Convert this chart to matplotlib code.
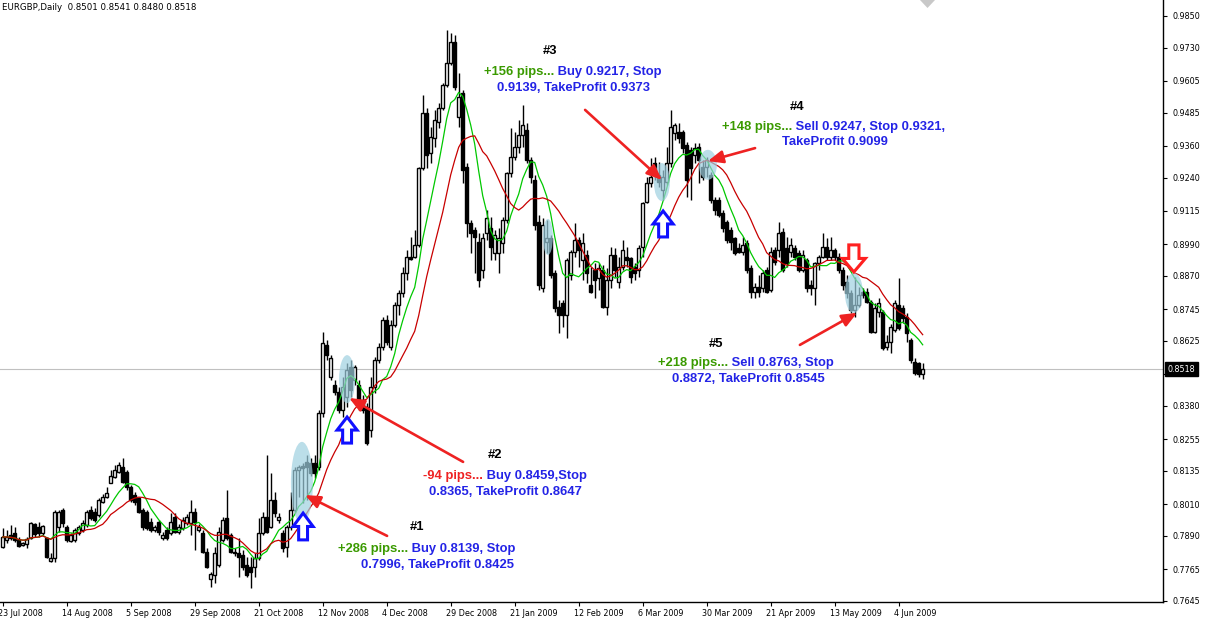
import numpy as np
import pandas as pd
import matplotlib
matplotlib.use("Agg")
import matplotlib.pyplot as plt
import matplotlib.transforms as mtransforms
from matplotlib.patches import Ellipse, Polygon

# EURGBP daily bars, 23 Jul 2008 .. 12 Jun 2009
opens = [
    0.7848, 0.7875, 0.7893, 0.7901, 0.7875, 0.7856, 0.7859, 0.7882, 0.7935, 0.7924,
    0.7901, 0.7882, 0.7795, 0.7807, 0.7924, 0.7988, 0.7924, 0.7871, 0.7875, 0.7901,
    0.7912, 0.7931, 0.7988, 0.7980, 0.7969, 0.8018, 0.8037, 0.8089, 0.8112, 0.8131,
    0.8150, 0.8131, 0.8074, 0.8044, 0.8033, 0.7988, 0.7980, 0.7942, 0.7912, 0.7942,
    0.7882, 0.7912, 0.7901, 0.7961, 0.7905, 0.7920, 0.7939, 0.7939, 0.7980, 0.7912,
    0.7901, 0.7829, 0.7727, 0.7743, 0.7780, 0.7875, 0.7957, 0.7893, 0.7829, 0.7826,
    0.7818, 0.7780, 0.7773, 0.7773, 0.7807, 0.7901, 0.7961, 0.7924, 0.8025, 0.7950,
    0.7901, 0.7848, 0.7924, 0.7988, 0.8138, 0.8154, 0.8169, 0.8165, 0.8165, 0.8150,
    0.8353, 0.8610, 0.8489, 0.8459, 0.8433, 0.8365, 0.8414, 0.8527, 0.8478, 0.8459,
    0.8402, 0.8376, 0.8289, 0.8451, 0.8553, 0.8602, 0.8704, 0.8602, 0.8685, 0.8761,
    0.8806, 0.8881, 0.8941, 0.8941, 0.8987, 0.9277, 0.9484, 0.9334, 0.9390, 0.9450,
    0.9503, 0.9590, 0.9673, 0.9752, 0.9469, 0.9560, 0.9281, 0.9070, 0.9043, 0.8998,
    0.8892, 0.9032, 0.9051, 0.8957, 0.8957, 0.8994, 0.9081, 0.9258, 0.9318, 0.9356,
    0.9401, 0.9420, 0.9307, 0.9232, 0.9073, 0.8825, 0.8998, 0.9013, 0.8881, 0.8753,
    0.8768, 0.8723, 0.8874, 0.8960, 0.9006, 0.8930, 0.8949, 0.8836, 0.8892, 0.8862,
    0.8892, 0.8753, 0.8855, 0.8949, 0.8847, 0.8904, 0.8941, 0.8938, 0.8904, 0.8892,
    0.8979, 0.9149, 0.9220, 0.9296, 0.9251, 0.9194, 0.9224, 0.9296, 0.9409, 0.9413,
    0.9413, 0.9364, 0.9345, 0.9326, 0.9356, 0.9281, 0.9281, 0.9251, 0.9156, 0.9156,
    0.9107, 0.9073, 0.9043, 0.9013, 0.8975, 0.8960, 0.8994, 0.8900, 0.8810, 0.8828,
    0.8825, 0.8892, 0.8817, 0.8968, 0.8968, 0.9036, 0.8975, 0.8960, 0.8975, 0.8957,
    0.8892, 0.8930, 0.8836, 0.8825, 0.8919, 0.8941, 0.8979, 0.8941, 0.8968, 0.8941,
    0.8892, 0.8847, 0.8806, 0.8742, 0.8761, 0.8810, 0.8810, 0.8772, 0.8659, 0.8734,
    0.8734, 0.8602, 0.8621, 0.8666, 0.8761, 0.8749, 0.8715, 0.8629, 0.8546, 0.8542,
    0.8501,
]
highs = [
    0.7920, 0.7912, 0.7931, 0.7924, 0.7886, 0.7867, 0.7886, 0.7942, 0.7939, 0.7942,
    0.7931, 0.7886, 0.7825, 0.7988, 0.7988, 0.7995, 0.7931, 0.7901, 0.7920, 0.7931,
    0.7950, 0.7988, 0.8003, 0.7995, 0.8033, 0.8048, 0.8074, 0.8138, 0.8157, 0.8169,
    0.8184, 0.8138, 0.8082, 0.8056, 0.8037, 0.7995, 0.7988, 0.7957, 0.7931, 0.7950,
    0.7905, 0.7924, 0.7976, 0.7976, 0.7935, 0.7961, 0.7973, 0.8025, 0.7995, 0.7935,
    0.7912, 0.7844, 0.7754, 0.7848, 0.7924, 0.7961, 0.8063, 0.7901, 0.7844, 0.7882,
    0.7837, 0.7810, 0.7810, 0.7826, 0.7957, 0.7980, 0.8196, 0.8127, 0.8056, 0.7976,
    0.7912, 0.7931, 0.8056, 0.8150, 0.8157, 0.8165, 0.8196, 0.8184, 0.8196, 0.8365,
    0.8659, 0.8629, 0.8572, 0.8478, 0.8451, 0.8489, 0.8542, 0.8553, 0.8534, 0.8478,
    0.8421, 0.8391, 0.8489, 0.8564, 0.8617, 0.8715, 0.8723, 0.8704, 0.8772, 0.8817,
    0.8904, 0.8968, 0.9017, 0.9043, 0.9281, 0.9552, 0.9503, 0.9432, 0.9496, 0.9522,
    0.9597, 0.9797, 0.9786, 0.9778, 0.9635, 0.9571, 0.9296, 0.9081, 0.9055, 0.9032,
    0.9032, 0.9119, 0.9092, 0.9043, 0.9051, 0.9092, 0.9262, 0.9428, 0.9413, 0.9458,
    0.9514, 0.9447, 0.9318, 0.9251, 0.9100, 0.9088, 0.9081, 0.9024, 0.8892, 0.8779,
    0.8779, 0.8938, 0.8968, 0.9070, 0.9017, 0.9032, 0.8968, 0.8904, 0.8919, 0.8919,
    0.8911, 0.8900, 0.8979, 0.8975, 0.8941, 0.9006, 0.8979, 0.8941, 0.8919, 0.8987,
    0.9149, 0.9243, 0.9315, 0.9318, 0.9300, 0.9269, 0.9356, 0.9496, 0.9447, 0.9447,
    0.9420, 0.9375, 0.9356, 0.9371, 0.9371, 0.9307, 0.9318, 0.9262, 0.9168, 0.9168,
    0.9119, 0.9081, 0.9055, 0.9017, 0.8994, 0.9017, 0.9006, 0.8911, 0.8843, 0.8874,
    0.8892, 0.8904, 0.8979, 0.8979, 0.9073, 0.9051, 0.9017, 0.9013, 0.8987, 0.8968,
    0.8968, 0.8938, 0.8855, 0.8923, 0.8949, 0.9032, 0.9013, 0.9017, 0.8975, 0.8957,
    0.8904, 0.8874, 0.8817, 0.8866, 0.8828, 0.8825, 0.8825, 0.8779, 0.8768, 0.8787,
    0.8742, 0.8647, 0.8689, 0.8779, 0.8862, 0.8761, 0.8730, 0.8636, 0.8561, 0.8546,
    0.8541,
]
lows = [
    0.7844, 0.7863, 0.7875, 0.7867, 0.7848, 0.7852, 0.7844, 0.7878, 0.7886, 0.7886,
    0.7893, 0.7807, 0.7792, 0.7792, 0.7905, 0.7924, 0.7867, 0.7867, 0.7867, 0.7893,
    0.7905, 0.7924, 0.7950, 0.7942, 0.7961, 0.8014, 0.8033, 0.8089, 0.8108, 0.8127,
    0.8089, 0.8063, 0.8018, 0.8006, 0.7976, 0.7912, 0.7912, 0.7905, 0.7905, 0.7893,
    0.7875, 0.7875, 0.7893, 0.7901, 0.7897, 0.7912, 0.7931, 0.7893, 0.7837, 0.7905,
    0.7826, 0.7769, 0.7697, 0.7712, 0.7773, 0.7867, 0.7875, 0.7826, 0.7814, 0.7735,
    0.7761, 0.7735, 0.7694, 0.7735, 0.7799, 0.7893, 0.7901, 0.7920, 0.7961, 0.7939,
    0.7829, 0.7810, 0.7912, 0.7976, 0.8037, 0.8014, 0.8025, 0.8116, 0.8108, 0.8138,
    0.8338, 0.8553, 0.8478, 0.8421, 0.8353, 0.8338, 0.8376, 0.8414, 0.8459, 0.8365,
    0.8353, 0.8233, 0.8263, 0.8429, 0.8542, 0.8591, 0.8610, 0.8591, 0.8678, 0.8723,
    0.8791, 0.8855, 0.8930, 0.8938, 0.8979, 0.9269, 0.9277, 0.9296, 0.9356, 0.9428,
    0.9496, 0.9582, 0.9665, 0.9571, 0.9432, 0.9220, 0.9017, 0.8957, 0.8881, 0.8828,
    0.8862, 0.9006, 0.8930, 0.8930, 0.8881, 0.8957, 0.9070, 0.9243, 0.9307, 0.9334,
    0.9356, 0.9296, 0.9220, 0.9043, 0.8817, 0.8810, 0.8957, 0.8862, 0.8734, 0.8655,
    0.8678, 0.8636, 0.8855, 0.8941, 0.8904, 0.8855, 0.8843, 0.8806, 0.8787, 0.8817,
    0.8749, 0.8723, 0.8825, 0.8866, 0.8825, 0.8892, 0.8904, 0.8843, 0.8855, 0.8866,
    0.8941, 0.9145, 0.9205, 0.9232, 0.9205, 0.9156, 0.9213, 0.9281, 0.9383, 0.9371,
    0.9334, 0.9168, 0.9156, 0.9296, 0.9220, 0.9232, 0.9243, 0.9145, 0.9100, 0.9092,
    0.9036, 0.8994, 0.8968, 0.8949, 0.8957, 0.8949, 0.8881, 0.8787, 0.8787, 0.8791,
    0.8810, 0.8806, 0.8810, 0.8911, 0.8941, 0.8885, 0.8904, 0.8941, 0.8930, 0.8885,
    0.8885, 0.8810, 0.8798, 0.8761, 0.8892, 0.8938, 0.8930, 0.8930, 0.8930, 0.8881,
    0.8817, 0.8787, 0.8730, 0.8715, 0.8753, 0.8787, 0.8768, 0.8655, 0.8655, 0.8715,
    0.8591, 0.8591, 0.8580, 0.8659, 0.8666, 0.8693, 0.8621, 0.8542, 0.8497, 0.8489,
    0.8480,
]
closes = [
    0.7886, 0.7886, 0.7882, 0.7875, 0.7852, 0.7863, 0.7878, 0.7939, 0.7897, 0.7901,
    0.7927, 0.7810, 0.7807, 0.7980, 0.7980, 0.7939, 0.7875, 0.7893, 0.7912, 0.7924,
    0.7939, 0.7980, 0.7957, 0.7950, 0.8025, 0.8037, 0.8052, 0.8116, 0.8138, 0.8157,
    0.8093, 0.8074, 0.8025, 0.8018, 0.7980, 0.7924, 0.7920, 0.7912, 0.7924, 0.7905,
    0.7893, 0.7882, 0.7942, 0.7905, 0.7924, 0.7950, 0.7961, 0.7980, 0.7942, 0.7924,
    0.7829, 0.7773, 0.7746, 0.7826, 0.7905, 0.7950, 0.7882, 0.7829, 0.7826, 0.7810,
    0.7773, 0.7743, 0.7754, 0.7807, 0.7901, 0.7961, 0.7905, 0.8025, 0.7976, 0.7961,
    0.7844, 0.7924, 0.7988, 0.8138, 0.8150, 0.8146, 0.8150, 0.8127, 0.8127, 0.8353,
    0.8617, 0.8572, 0.8561, 0.8433, 0.8365, 0.8451, 0.8515, 0.8440, 0.8527, 0.8391,
    0.8365, 0.8240, 0.8451, 0.8553, 0.8602, 0.8704, 0.8621, 0.8685, 0.8761, 0.8806,
    0.8881, 0.8941, 0.8934, 0.8987, 0.9277, 0.9484, 0.9326, 0.9394, 0.9458, 0.9503,
    0.9590, 0.9673, 0.9752, 0.9582, 0.9545, 0.9269, 0.9070, 0.9032, 0.9017, 0.8855,
    0.9013, 0.9088, 0.8979, 0.9024, 0.9013, 0.9081, 0.9258, 0.9318, 0.9356, 0.9401,
    0.9439, 0.9307, 0.9243, 0.9062, 0.8836, 0.9062, 0.9013, 0.8874, 0.8749, 0.8723,
    0.8723, 0.8930, 0.8960, 0.9006, 0.8968, 0.8994, 0.8881, 0.8810, 0.8855, 0.8900,
    0.8753, 0.8855, 0.8949, 0.8892, 0.8904, 0.8968, 0.8930, 0.8866, 0.8881, 0.8975,
    0.9145, 0.9220, 0.9243, 0.9251, 0.9224, 0.9243, 0.9296, 0.9432, 0.9439, 0.9390,
    0.9352, 0.9232, 0.9277, 0.9352, 0.9307, 0.9243, 0.9307, 0.9156, 0.9119, 0.9100,
    0.9051, 0.9006, 0.8998, 0.8957, 0.8960, 0.8987, 0.8892, 0.8810, 0.8828, 0.8810,
    0.8881, 0.8810, 0.8960, 0.8923, 0.9032, 0.8892, 0.8919, 0.8987, 0.8941, 0.8892,
    0.8949, 0.8825, 0.8825, 0.8919, 0.8941, 0.8979, 0.8941, 0.8968, 0.8941, 0.8892,
    0.8836, 0.8806, 0.8742, 0.8761, 0.8798, 0.8798, 0.8772, 0.8659, 0.8749, 0.8768,
    0.8598, 0.8621, 0.8678, 0.8768, 0.8674, 0.8712, 0.8655, 0.8553, 0.8504, 0.8500,
    0.8518,
]

date_labels = ["23 Jul 2008", "14 Aug 2008", "5 Sep 2008", "29 Sep 2008", "21 Oct 2008",
               "12 Nov 2008", "4 Dec 2008", "29 Dec 2008", "21 Jan 2009", "12 Feb 2009",
               "6 Mar 2009", "30 Mar 2009", "21 Apr 2009", "13 May 2009", "4 Jun 2009"]
price_ticks = [0.9850, 0.9730, 0.9605, 0.9485, 0.9360, 0.9240, 0.9115, 0.8990, 0.8870,
               0.8745, 0.8625, 0.8500, 0.8380, 0.8255, 0.8135, 0.8010, 0.7890, 0.7765, 0.7645]
last_price = 0.8518
fast_period = 8
slow_period = 15

GREEN = "#3a9a00"
BLUE = "#2323e6"
RED = "#ee2222"

o = np.array(opens)
h = np.array(highs)
l = np.array(lows)
c = np.array(closes)
x = np.arange(len(c))

fig = plt.figure(figsize=(12.05, 6.18), dpi=100)
ax = fig.add_axes([0, 16 / 618, 1163 / 1205, 602 / 618])
ax.set_xlim(-0.675, 290.08)
ax.set_ylim(0.76408, 0.99103)

# candles
up = c >= o
ax.vlines(x, l, h, color="black", lw=1.0, zorder=2)
ax.bar(x[up], c[up] - o[up], bottom=o[up], width=0.6, color="white",
       edgecolor="black", lw=1.0, zorder=3)
ax.bar(x[~up], o[~up] - c[~up], bottom=c[~up], width=0.6, color="black",
       edgecolor="black", lw=1.0, zorder=3)

# moving averages
s = pd.Series(c)
ax.plot(x, s.rolling(fast_period, min_periods=1).mean(), color="#00c800", lw=0.9, zorder=4)
ax.plot(x, s.rolling(slow_period, min_periods=1).mean(), color="#c80000", lw=0.9, zorder=4)

ax.axhline(last_price, color="#c0c0c0", lw=0.8, zorder=1)

# shaded entry zones
for cx, cy, w, hh in [(74.8, 0.8090, 5.5, 0.0309), (86.1, 0.8481, 4.0, 0.0181),
                      (136.3, 0.9017, 2.5, 0.0136), (164.8, 0.9224, 4.0, 0.0143),
                      (176.3, 0.9289, 4.5, 0.0113), (212.8, 0.8806, 4.5, 0.0151)]:
    ax.add_patch(Ellipse((cx, cy), w, hh, fc="#9fd0e0", ec="none", alpha=0.7, zorder=5))


def block_arrow(cx, top, bottom, width, color, up=True):
    hw, sw = width / 2, width / 4.5
    mid = (top + bottom) / 2
    if up:
        pts = [(cx, top), (cx + hw, mid), (cx + sw, mid), (cx + sw, bottom),
               (cx - sw, bottom), (cx - sw, mid), (cx - hw, mid)]
    else:
        pts = [(cx, bottom), (cx + hw, mid), (cx + sw, mid), (cx + sw, top),
               (cx - sw, top), (cx - sw, mid), (cx - hw, mid)]
    ax.add_patch(Polygon(pts, closed=True, fc="white", ec=color, lw=2.2, zorder=6))


block_arrow(75.1, 0.7976, 0.7875, 5.0, "#1010ff")
block_arrow(86.1, 0.8338, 0.8240, 5.0, "#1010ff")
block_arrow(165.1, 0.9115, 0.9017, 5.0, "#1010ff")
block_arrow(212.8, 0.8987, 0.8885, 5.75, "#ff2020", up=False)

# red pointer arrows
for start, tip in [((96.1, 0.7890), (75.6, 0.8044)), ((115.1, 0.8169), (86.6, 0.8410)),
                   ((145.6, 0.9496), (164.8, 0.9232)), ((188.1, 0.9352), (176.3, 0.9303)),
                   ((199.3, 0.8610), (213.6, 0.8731))]:
    ax.annotate("", xy=tip, xytext=start, zorder=7,
                arrowprops=dict(arrowstyle="-|>,head_length=0.9,head_width=0.38",
                                color=RED, lw=1.9, shrinkA=0, shrinkB=0, mutation_scale=10))

# trade notes
font = dict(fontsize=9.35, fontweight="bold", family=["Liberation Sans", "DejaVu Sans"])
notes = [
    ("#1", (103.6, 0.7924), "+286 pips...", GREEN, " Buy 0.8139, Stop", (83.8, 0.7841),
     "0.7996, TakeProfit 0.8425", (108.6, 0.7780)),
    ("#2", (123.1, 0.8195), "-94 pips...", RED, " Buy 0.8459,Stop", (105.1, 0.8116),
     "0.8365, TakeProfit 0.8647", (125.8, 0.8055)),
    ("#3", (136.8, 0.9718), "+156 pips...", GREEN, " Buy 0.9217, Stop", (120.3, 0.9639),
     "0.9139, TakeProfit 0.9373", (142.8, 0.9579)),
    ("#4", (198.6, 0.9507), "+148 pips...", GREEN, " Sell 0.9247, Stop 0.9321,", (179.8, 0.9432),
     "TakeProfit 0.9099", (208.1, 0.9375)),
    ("#5", (178.3, 0.8613), "+218 pips...", GREEN, " Sell 0.8763, Stop", (163.8, 0.8542),
     "0.8872, TakeProfit 0.8545", (186.3, 0.8481)),
]
for tag, tag_pos, pips, pips_col, rest, pos1, line2, pos2 in notes:
    ax.text(*tag_pos, tag, color="black", ha="center", va="center", zorder=8, **font)
    t1 = ax.text(*pos1, pips, color=pips_col, ha="left", va="center", zorder=8, **font)
    ax.annotate(rest, xy=(1, 0), xycoords=t1, ha="left", va="bottom", color=BLUE,
                zorder=8, **font)
    ax.text(*pos2, line2, color=BLUE, ha="center", va="center", zorder=8, **font)

# axes styling
for side in ["left", "top"]:
    ax.spines[side].set_visible(False)
for side in ["right", "bottom"]:
    ax.spines[side].set_linewidth(1.0)
ax.yaxis.tick_right()
ax.set_yticks(price_ticks)
# the 0.8500 label sits under the current-price box
ax.set_yticklabels(["" if v == 0.8500 else f"{v:.4f}" for v in price_ticks])
ax.tick_params(axis="y", direction="out", length=3, width=0.8, pad=4, labelsize=5.8)
ax.set_xticks(x[::16][:len(date_labels)])
ax.set_xticklabels(date_labels, ha="left")
ax.tick_params(axis="x", direction="out", length=3, width=0.8, pad=2, labelsize=5.8)
shift = mtransforms.ScaledTranslation(-5 / 100, 0, fig.dpi_scale_trans)
for lab in ax.get_xticklabels():
    lab.set_transform(lab.get_transform() + shift)

trans = mtransforms.blended_transform_factory(ax.transAxes, ax.transData)
ax.text(1.004, last_price, f"{last_price:.4f}", transform=trans, ha="left", va="center",
        color="white", fontsize=5.8, zorder=10, clip_on=False,
        bbox=dict(boxstyle="square,pad=0.3", fc="black", ec="black"))

fig.text(2 / 1205, 1 - 8 / 618, "EURGBP,Daily  0.8501 0.8541 0.8480 0.8518",
         fontsize=6.2, ha="left", va="center")

# chart-shift marker at the top edge
fig.patches.append(Polygon([(920 / 1205, 1.0), (935 / 1205, 1.0), (927.5 / 1205, 1 - 8 / 618)],
                           closed=True, fc="#c8c8c8", ec="none", transform=fig.transFigure))

fig.savefig("out.png", dpi=100)
